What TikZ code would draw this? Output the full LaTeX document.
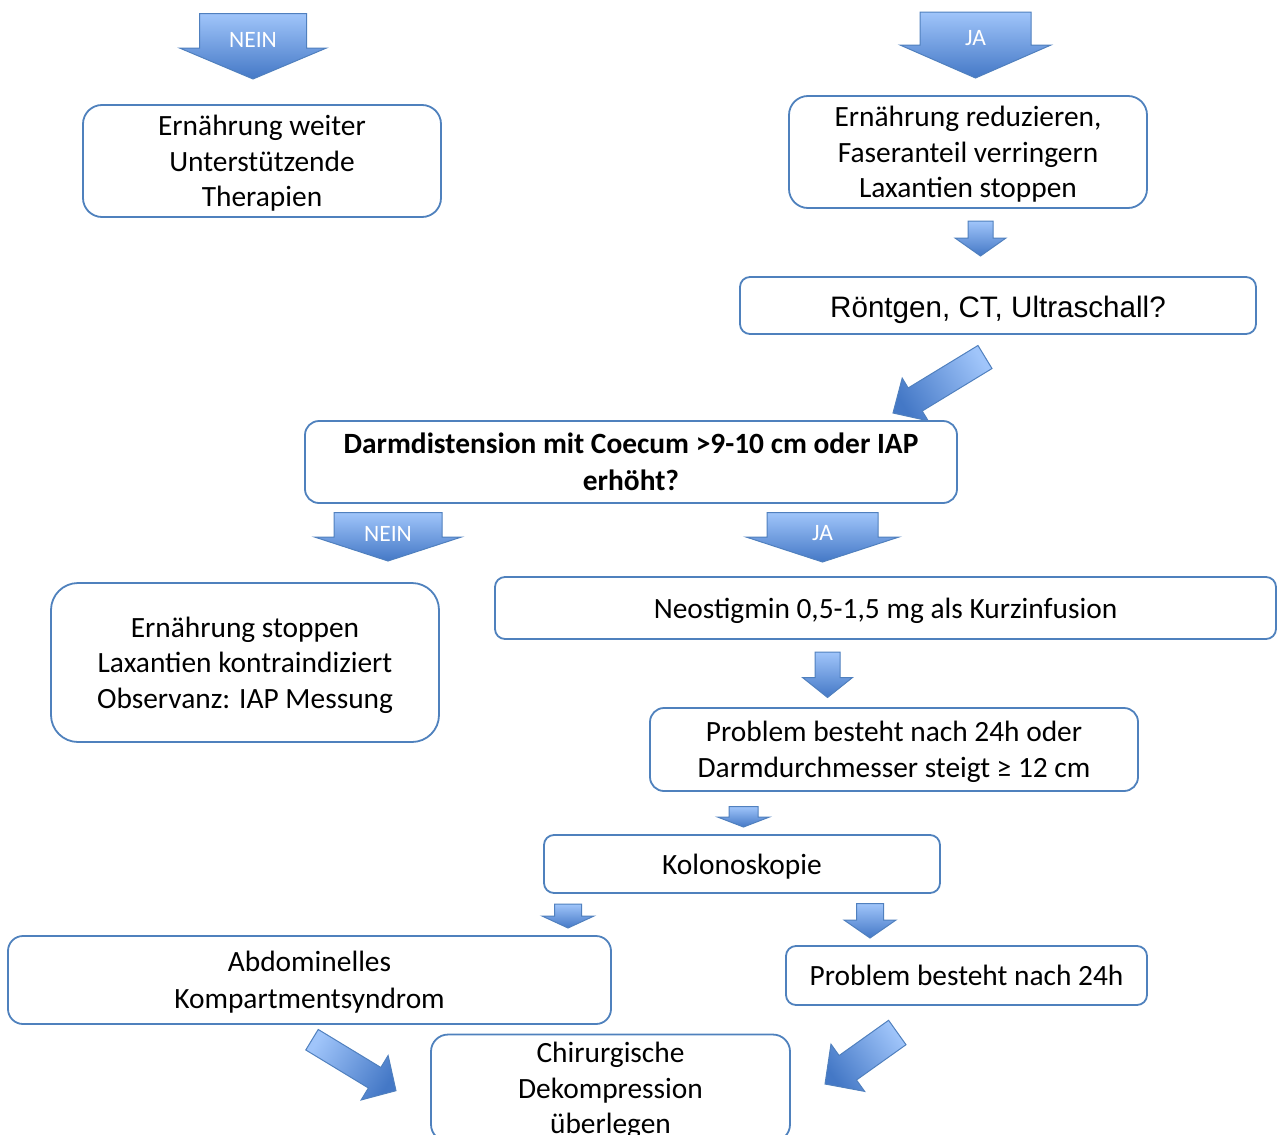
\documentclass[tikz,border=0pt]{standalone}
\usepackage{fontspec}
\setmainfont{Carlito}
\newfontfamily\arialfont{Liberation Sans}
\usetikzlibrary{positioning,calc}

\definecolor{boxblue}{RGB}{79,129,189}
\definecolor{arrowlight}{RGB}{160,197,250}
\definecolor{arrowdark}{RGB}{68,120,198}
\definecolor{arrowline}{RGB}{80,128,190}

\newcommand{\ws}{\rule[-0.269em]{0pt}{1.221em}}
\newcommand{\as}{\rule[-0.212em]{0pt}{1.252em}}

\newcommand{\blockarrow}[7]{%
	\coordinate (#1-t) at #2;
	\coordinate (#1-h) at #3;
	\coordinate (#1-b) at ($(#1-h)!#6!(#1-t)$);
	\path[blockarr, shading angle=#7]
		($(#1-t)!0.5*#4!90:(#1-h)$) -- ($(#1-b)!0.5*#4!-90:(#1-t)$) -- ($(#1-b)!0.5*#5!-90:(#1-t)$) -- (#1-h)
		-- ($(#1-b)!0.5*#5!90:(#1-t)$) -- ($(#1-b)!0.5*#4!90:(#1-t)$) -- ($(#1-t)!0.5*#4!-90:(#1-h)$) -- cycle;
}

\begin{document}
\begin{tikzpicture}[x=1pt, y=-1pt,
	box/.style={rectangle, draw=boxblue, line width=1.8pt, align=center, inner sep=0pt, font=\fontsize{29.4}{35.5}\selectfont},
	blockarr/.style={top color=arrowlight, bottom color=arrowdark, draw=arrowline, line width=1pt, line join=miter},
	arrowtext/.style={text=white, inner sep=0pt, font=\fontsize{23.5}{28}\selectfont}]
	\useasboundingbox (0,0) rectangle (1283,1135);

	\node (feedon) [box, minimum width=358pt, minimum height=112pt, rounded corners=19pt] at (262,161)
	{\ws Ernährung weiter\\Unterstützende\\Therapien\ws};
	\node (feedred) [box, minimum width=358pt, minimum height=112pt, rounded corners=19pt] at (968,152)
	{\ws Ernährung reduzieren,\\Faseranteil verringern\\Laxantien stoppen\ws};
	\node (imaging) [box, minimum width=516pt, minimum height=57pt, rounded corners=10pt, font=\arialfont\fontsize{29.6}{34}\selectfont] at (998,305.5)
	{\as Röntgen, CT, Ultraschall?};
	\node (distension) [box, minimum width=652pt, minimum height=82pt, rounded corners=14pt, font=\bfseries\fontsize{29.4}{35.5}\selectfont] at (631,462)
	{\ws Darmdistension mit Coecum >9-10 cm oder IAP\\erhöht?\ws};
	\node (feedstop) [box, minimum width=388pt, minimum height=159pt, rounded corners=27pt] at (245,662.5)
	{\ws Ernährung stoppen\\Laxantien kontraindiziert\\Observanz: IAP Messung\ws};
	\node (neostigmin) [box, minimum width=781pt, minimum height=62pt, rounded corners=10pt] at (885.5,608)
	{\ws Neostigmin 0,5-1,5 mg als Kurzinfusion};
	\node (persist) [box, minimum width=488pt, minimum height=83pt, rounded corners=14pt] at (894,749.5)
	{\ws Problem besteht nach 24h oder\\Darmdurchmesser steigt ≥ 12 cm\ws};
	\node (colono) [box, minimum width=396pt, minimum height=58pt, rounded corners=10pt] at (742,864)
	{\ws Kolonoskopie};
	\node (acs) [box, minimum width=603pt, minimum height=88pt, rounded corners=15pt] at (309.5,980)
	{\ws Abdominelles\\Kompartmentsyndrom\ws};
	\node (persist2) [box, minimum width=361pt, minimum height=59pt, rounded corners=10pt] at (966.5,975.5)
	{\ws Problem besteht nach 24h};
	\node (surgery) [box, minimum width=359pt, minimum height=102pt, rounded corners=17pt] at (610.5,1088)
	{\ws Chirurgische\\Dekompression\\überlegen\ws};

	\blockarrow{neinA}{(253,13.5)}{(253,79)}{107pt}{147pt}{31pt}{0}
	\blockarrow{jaA}{(975.5,12)}{(975.5,78)}{111pt}{151pt}{33pt}{0}
	\blockarrow{redA}{(980.5,221)}{(980.5,256)}{25pt}{51pt}{18pt}{0}
	\blockarrow{imgA}{(985,357)}{(893,413)}{27pt}{50pt}{26pt}{-58.7}
	\blockarrow{neinB}{(388,512.5)}{(388,561)}{108pt}{147pt}{24pt}{0}
	\blockarrow{jaB}{(822.5,512.5)}{(822.5,562)}{111pt}{153pt}{25pt}{0}
	\blockarrow{neoA}{(827.5,652)}{(827.5,697.5)}{25pt}{50pt}{20pt}{0}
	\blockarrow{perA}{(743.5,806.5)}{(743.5,827)}{29pt}{52pt}{10pt}{0}
	\blockarrow{colA}{(568,904)}{(568,928)}{27pt}{52pt}{12pt}{0}
	\blockarrow{colB}{(870,903.5)}{(870,938)}{27pt}{52pt}{18pt}{0}
	\blockarrow{acsA}{(312,1039.7)}{(396,1090.7)}{24pt}{52pt}{25pt}{58.7}
	\blockarrow{perB}{(897.3,1032.5)}{(825,1084)}{30pt}{58pt}{28pt}{-54.5}

	\node (neinAtext) [arrowtext] at (253,39.5) {NEIN};
	\node (jaAtext) [arrowtext] at (975.5,38.5) {JA};
	\node (neinBtext) [arrowtext] at (388,533.5) {NEIN};
	\node (jaBtext) [arrowtext] at (822.5,533.5) {JA};
\end{tikzpicture}
\end{document}
